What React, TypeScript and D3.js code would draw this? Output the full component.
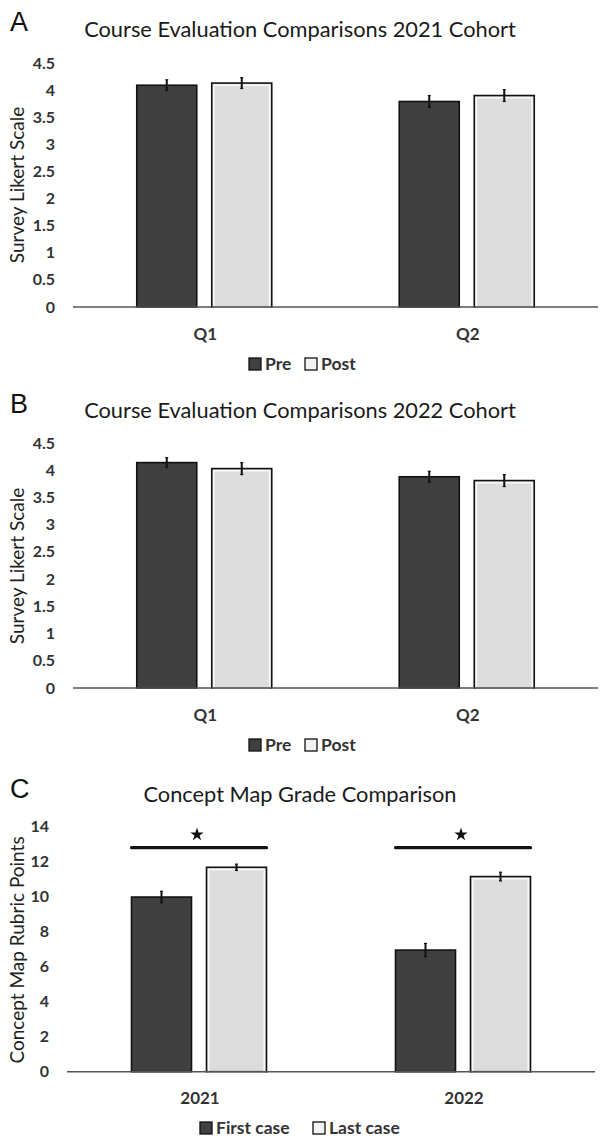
import React from 'react';
import * as d3 from 'd3';

// ---------- data ----------
const surveyCategories = ['Q1', 'Q2'];
const surveySeries = ['Pre', 'Post'];
const survey2021Pre = [4.09, 3.79];
const survey2021Post = [4.13, 3.9];
const survey2021PreErr = [0.1, 0.11];
const survey2021PostErr = [0.1, 0.11];
const survey2022Pre = [4.14, 3.88];
const survey2022Post = [4.03, 3.81];
const survey2022PreErr = [0.09, 0.1];
const survey2022PostErr = [0.11, 0.11];
const surveyTicks = [0, 0.5, 1, 1.5, 2, 2.5, 3, 3.5, 4, 4.5];

const conceptCategories = ['2021', '2022'];
const conceptSeries = ['First case', 'Last case'];
const conceptFirst = [9.98, 6.95];
const conceptLast = [11.68, 11.15];
const conceptFirstErr = [0.33, 0.38];
const conceptLastErr = [0.18, 0.25];
const conceptTicks = [0, 2, 4, 6, 8, 10, 12, 14];
const conceptSignificant = ['2021', '2022'];
const significanceLevel = 12.8;
const starLevel = 13.55;

const FONT = "Lato, 'Open Sans', sans-serif";
const DARK = '#404040';
const LIGHT = '#dcdcdc';

type PanelProps = {
  letter: string;
  letterY: number;
  title: string;
  titleY: number;
  yLabel: string;
  yLabelCenter: number;
  categories: string[];
  series: string[];
  values: number[][];
  errors: number[][];
  ticks: number[];
  yMax: number;
  y0: number;
  yTop: number;
  xLeft: number;
  xRight: number;
  tickX: number;
  catLabelY: number;
  legendY: number;
  legendX: number[];
  significant?: string[];
};

function Panel(p: PanelProps) {
  const y = d3.scaleLinear().domain([0, p.yMax]).range([p.y0, p.yTop]);
  const x = d3.scaleBand<string>().domain(p.categories).range([p.xLeft, p.xRight]).paddingInner(0).paddingOuter(0);
  const inner = d3.scaleBand<string>().domain(p.series).range([-67.5, 67.5]).paddingInner(0.2).paddingOuter(0);
  const fills = [DARK, LIGHT];
  const star = d3.symbol().type(d3.symbolStar).size(55)();
  return (
    <g>
      <text x={10} y={p.letterY} fontFamily="'Liberation Sans', Arial, sans-serif" fontSize={27} fill="#111">{p.letter}</text>
      <text x={300} y={p.titleY} textAnchor="middle" fontFamily={FONT} fontSize={21.8} fill="#1a1a1a">{p.title}</text>
      <text
        transform={`translate(${24},${p.yLabelCenter}) rotate(-90)`}
        textAnchor="middle"
        fontFamily={FONT}
        fontSize={19}
        fill="#222"
      >
        {p.yLabel}
      </text>
      {p.ticks.map((t) => (
        <text key={t} x={p.tickX} y={y(t)} dy="0.35em" textAnchor="end" fontFamily={FONT} fontWeight={700} fontSize={16} fill="#333">
          {String(t)}
        </text>
      ))}
      {p.categories.map((c, ci) => {
        const cx = (x(c) as number) + x.bandwidth() / 2;
        return (
          <g key={c}>
            {p.series.map((s, si) => {
              const v = p.values[si][ci];
              const e = p.errors[si][ci];
              const bx = cx + (inner(s) as number);
              const bw = inner.bandwidth();
              const top = y(v);
              const mid = bx + bw / 2;
              return (
                <g key={s}>
                  <rect x={bx} y={top} width={bw} height={p.y0 - top} fill={fills[si]} stroke="#111" strokeWidth={1.6} />
                  {si === 1 && (
                    <rect x={bx + 2.2} y={top + 2.2} width={bw - 4.4} height={p.y0 - top - 2.2} fill="none" stroke="#fafafa" strokeWidth={1.4} />
                  )}
                  <line x1={mid} x2={mid} y1={y(v + e)} y2={y(v - e)} stroke="#111" strokeWidth={2} />
                  <line x1={mid - 1.5} x2={mid + 1.5} y1={y(v + e)} y2={y(v + e)} stroke="#111" strokeWidth={1.2} />
                  <line x1={mid - 1.5} x2={mid + 1.5} y1={y(v - e)} y2={y(v - e)} stroke="#111" strokeWidth={1.2} />
                </g>
              );
            })}
            <text x={cx + 1} y={p.catLabelY} textAnchor="middle" fontFamily={FONT} fontWeight={700} fontSize={17} fill="#333">
              {c}
            </text>
            {p.significant && p.significant.includes(c) && (
              <g>
                <line
                  x1={cx + (inner(p.series[0]) as number)}
                  x2={cx + (inner(p.series[1]) as number) + inner.bandwidth()}
                  y1={y(significanceLevel)}
                  y2={y(significanceLevel)}
                  stroke="#111"
                  strokeWidth={3.2}
                  strokeLinecap="round"
                />
                <path d={star || ''} transform={`translate(${cx - 2},${y(starLevel)})`} fill="#111" />
              </g>
            )}
          </g>
        );
      })}
      <line x1={p.xLeft} x2={p.xRight} y1={p.y0} y2={p.y0} stroke="#555" strokeWidth={1.6} />
      {p.series.map((s, si) => (
        <g key={s}>
          <rect x={p.legendX[si]} y={p.legendY - 6} width={12} height={12} fill={si === 0 ? DARK : '#f2f2f2'} stroke="#111" strokeWidth={1.3} />
          <text x={p.legendX[si] + 16} y={p.legendY} dy="0.35em" fontFamily={FONT} fontWeight={700} fontSize={17.5} fill="#333">
            {s}
          </text>
        </g>
      ))}
    </g>
  );
}

export default function App() {
  return (
    <svg width={604} height={1143} style={{ position: 'absolute', left: 0, top: 0, background: '#fff' }}>
      <rect x={0} y={0} width={604} height={1143} fill="#fff" />
      <Panel
        letter="A"
        letterY={31}
        title="Course Evaluation Comparisons 2021 Cohort"
        titleY={37}
        yLabel="Survey Likert Scale"
        yLabelCenter={185}
        categories={surveyCategories}
        series={surveySeries}
        values={[survey2021Pre, survey2021Post]}
        errors={[survey2021PreErr, survey2021PostErr]}
        ticks={surveyTicks}
        yMax={4.5}
        y0={307}
        yTop={63}
        xLeft={73}
        xRight={598}
        tickX={55}
        catLabelY={340}
        legendY={364}
        legendX={[249, 305]}
      />
      <Panel
        letter="B"
        letterY={413}
        title="Course Evaluation Comparisons 2022 Cohort"
        titleY={418}
        yLabel="Survey Likert Scale"
        yLabelCenter={566}
        categories={surveyCategories}
        series={surveySeries}
        values={[survey2022Pre, survey2022Post]}
        errors={[survey2022PreErr, survey2022PostErr]}
        ticks={surveyTicks}
        yMax={4.5}
        y0={688}
        yTop={443}
        xLeft={73}
        xRight={598}
        tickX={55}
        catLabelY={721}
        legendY={745}
        legendX={[249, 305]}
      />
      <Panel
        letter="C"
        letterY={798}
        title="Concept Map Grade Comparison"
        titleY={802}
        yLabel="Concept Map Rubric Points"
        yLabelCenter={950}
        categories={conceptCategories}
        series={conceptSeries}
        values={[conceptFirst, conceptLast]}
        errors={[conceptFirstErr, conceptLastErr]}
        ticks={conceptTicks}
        yMax={14}
        y0={1071.7}
        yTop={826.7}
        xLeft={67}
        xRight={595}
        tickX={49}
        catLabelY={1104}
        legendY={1128}
        legendX={[200, 313]}
        significant={conceptSignificant}
      />
    </svg>
  );
}
